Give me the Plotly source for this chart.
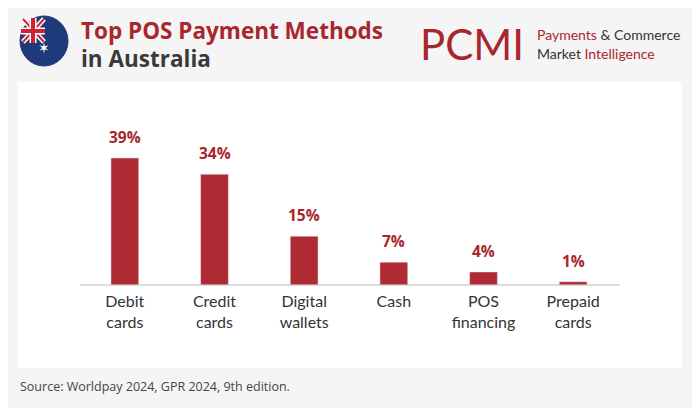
import plotly.graph_objects as go

methods = ["Debit<br>cards", "Credit<br>cards", "Digital<br>wallets", "Cash", "POS<br>financing", "Prepaid<br>cards"]
shares = [39, 34, 15, 7, 4, 1]

W, H = 700, 408
OFF = 8  # page body margin
RED = "#a8262d"
FONT = "Open Sans"

def fx(x):
    return (x - OFF) / W

def fy(y):
    return 1 - (y - OFF) / H

xs = list(range(len(methods)))
fig = go.Figure(go.Bar(x=xs, y=shares, width=0.31, marker_color="#b02a33"))

shapes = [
    dict(type="rect", xref="paper", yref="paper", x0=fx(18), x1=fx(682), y0=fy(368), y1=fy(82),
         fillcolor="white", line_width=0, layer="below"),
    dict(type="line", xref="paper", yref="paper", x0=fx(80), x1=fx(620), y0=fy(285), y1=fy(285),
         line=dict(color="#bbbbbb", width=1)),
    # flag
    dict(type="circle", xref="paper", yref="paper", x0=fx(20), x1=fx(68), y0=fy(66), y1=fy(16),
         fillcolor="#1f3a7a", line=dict(color="#1f3a7a", width=1)),
]
for (a, b, c, d, col, w) in [
    (23, 19, 44, 42, "white", 5), (44, 19, 23, 42, "white", 5),
    (23, 19, 44, 42, "#d32030", 2), (44, 19, 23, 42, "#d32030", 2),
    (33, 18, 33, 43, "white", 7), (21, 31, 45, 31, "white", 7),
    (33, 18, 33, 43, "#d32030", 4), (21, 31, 45, 31, "#d32030", 4),
]:
    shapes.append(dict(type="line", xref="paper", yref="paper", x0=fx(a), y0=fy(b), x1=fx(c), y1=fy(d),
                       line=dict(color=col, width=w)))

ann = [
    dict(x=fx(79), y=fy(30), text="<b>Top POS Payment Methods</b>", font=dict(family=FONT, size=22.5, color=RED)),
    dict(x=fx(79), y=fy(58), text="<b>in Australia</b>", font=dict(family=FONT, size=22.5, color="#3a3a3a")),
    dict(x=fx(418), y=fy(44), text="PCMI", font=dict(family="Lato", size=42, color=RED)),
    dict(x=fx(535), y=fy(35), text=f"<span style='color:{RED}'>Payments</span> & Commerce",
         font=dict(family="Lato", size=14, color="#333333")),
    dict(x=fx(535), y=fy(53), text=f"Market <span style='color:{RED}'>Intelligence</span>",
         font=dict(family="Lato", size=14, color="#333333")),
    dict(x=fx(18), y=fy(386), text="Source: Worldpay 2024, GPR 2024, 9th edition.",
         font=dict(family=FONT, size=12.5, color="#444444")),
    dict(x=fx(44), y=fy(48), text="✶", font=dict(size=14, color="white"), xanchor="center"),
]
for a in ann:
    a.setdefault("xanchor", "left")
    a.update(xref="paper", yref="paper", yanchor="middle", showarrow=False)

for x, v in zip(xs, shares):
    ann.append(dict(x=x, y=v, xref="x", yref="y", text=f"<b>{v}%</b>", showarrow=False,
                    yanchor="bottom", yshift=8, font=dict(family=FONT, size=15.5, color=RED)))

fig.update_layout(
    width=W, height=H, margin=dict(l=0, r=0, t=0, b=0),
    paper_bgcolor="#f5f5f5", plot_bgcolor="rgba(0,0,0,0)",
    shapes=shapes, annotations=ann, showlegend=False,
    xaxis=dict(domain=[fx(80), fx(618)], range=[-0.5, 5.5], tickmode="array",
               tickvals=xs, ticktext=methods, showgrid=False, ticklabelstandoff=5,
               ticks="", tickfont=dict(family="Lato", size=16, color="#333333")),
    yaxis=dict(domain=[fy(285), fy(100)], range=[0, 56.8], visible=False),
)
fig.write_html("out.html")
